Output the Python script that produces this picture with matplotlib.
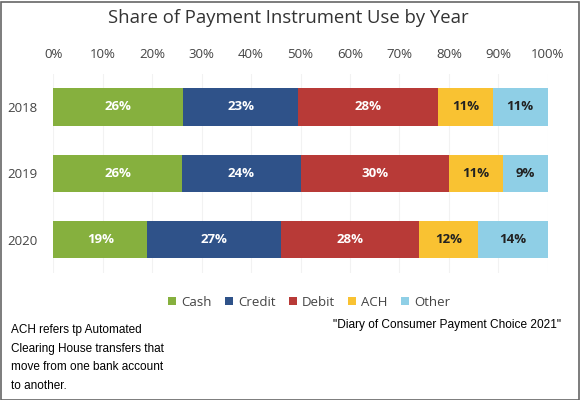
import matplotlib
matplotlib.use("Agg")
import matplotlib.pyplot as plt
import numpy as np
from matplotlib.patches import Rectangle

years = ["2018", "2019", "2020"]
series = ["Cash", "Credit", "Debit", "ACH", "Other"]
cash = [26, 26, 19]
credit = [23, 24, 27]
debit = [28, 30, 28]
ach = [11, 11, 12]
other = [11, 9, 14]
colors = ["#86B03E", "#2F5289", "#B83A37", "#F9C232", "#8FCFE6"]
text_colors = ["white", "white", "white", "#222222", "#222222"]
xticks = [0, 10, 20, 30, 40, 50, 60, 70, 80, 90, 100]

W, H = 580, 400
fig = plt.figure(figsize=(W / 100, H / 100), dpi=100)
ax = fig.add_axes([53.3 / W, 1 - 272.7 / H, (547.7 - 53.3) / W, (272.7 - 73.8) / H])

data = np.array([cash, credit, debit, ach, other], dtype=float)
shares = data / data.sum(axis=0) * 100
y = np.arange(len(years))
left = np.zeros(len(years))
for i, name in enumerate(series):
    ax.barh(y, shares[i], left=left, height=0.565, color=colors[i], label=name, zorder=3)
    for j in range(len(years)):
        ax.text(left[j] + shares[i][j] / 2, y[j], f"{int(data[i][j])}%",
                ha="center", va="center", color=text_colors[i],
                fontsize=9.5, fontweight="bold", family="Open Sans", zorder=4)
    left += shares[i]

ax.set_xlim(0, 100)
ax.set_ylim(2.5, -0.5)
ax.set_yticks(y)
ax.set_yticklabels(years, family="Open Sans", fontsize=9.5, color="#444444")
ax.xaxis.tick_top()
ax.set_xticks(xticks)
ax.set_xticklabels([f"{t}%" for t in xticks], family="Open Sans", fontsize=9.5, color="#444444")
ax.tick_params(axis="x", length=0, pad=9)
ax.tick_params(axis="y", length=0, pad=11.5)
ax.grid(axis="x", color="#f2f2f2", linewidth=0.8, zorder=0)
for s in ax.spines.values():
    s.set_visible(False)

fig.text(288 / W, 1 - 18 / H, "Share of Payment Instrument Use by Year", ha="center", va="center",
         fontsize=13.3, family="Open Sans", color="#333333")

leg = fig.legend(loc="center", bbox_to_anchor=(309 / W, 1 - 302 / H), ncol=5, frameon=False,
                 prop={"family": "Open Sans", "size": 9.5}, handlelength=0.6, handleheight=0.6,
                 handletextpad=0.4, columnspacing=1.0)
for t in leg.get_texts():
    t.set_color("#444444")

fig.text(11 / W, 1 - 324.5 / H,
         "ACH refers tp Automated\nClearing House transfers that\nmove from one bank account\nto another.",
         ha="left", va="top", fontsize=8.5, family="Liberation Sans", color="black", linespacing=1.72)
fig.text(561 / W, 1 - 325 / H, "\"Diary of Consumer Payment Choice 2021\"",
         ha="right", va="center", fontsize=8.6, family="Liberation Sans", color="black")

fig.patches.append(Rectangle((0.5 / W, 0.5 / H), 1 - 2 / W, 1 - 2 / H, transform=fig.transFigure,
                             fill=False, edgecolor="#666666", linewidth=1.2))

fig.savefig("out.png", dpi=100)
